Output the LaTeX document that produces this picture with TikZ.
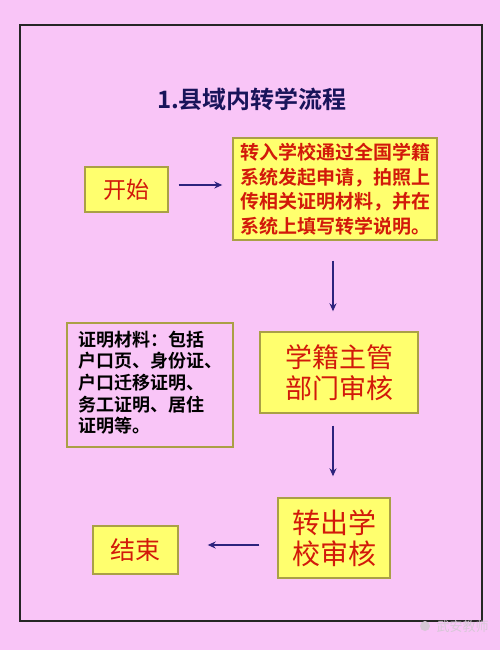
\documentclass[tikz,border=0pt]{standalone}
\usepackage{fontspec}
\setmainfont{Noto Sans CJK SC}
\newfontfamily\cjk{Noto Sans CJK SC}
\newfontfamily\cjkbold{Noto Sans CJK SC Bold}
\usetikzlibrary{arrows.meta}
\definecolor{bgpink}{RGB}{249,197,247}
\definecolor{boxyellow}{RGB}{255,255,110}
\definecolor{boxedge}{RGB}{170,160,70}
\definecolor{txtred}{RGB}{210,25,10}
\definecolor{navy}{RGB}{45,35,125}
\definecolor{titlenavy}{RGB}{25,20,90}
\definecolor{wmgray}{RGB}{215,200,215}
\tikzset{
  ybox/.style={draw=boxedge, line width=1.4pt, fill=boxyellow, text=txtred, align=center, inner sep=0pt},
  pbox/.style={draw=boxedge, line width=1.4pt, fill=bgpink, text=black, align=left, inner sep=0pt},
  flow/.style={draw=navy, line width=1.3pt, -{Stealth[length=8pt,width=7pt]}},
}
\begin{document}
\begin{tikzpicture}[x=1pt,y=-1pt]
\fill[bgpink] (0,0) rectangle (500,650);
\useasboundingbox (0,0) rectangle (500,650);
\draw[line width=1.3pt, black!85] (20,25) rectangle (482,621);
\node[text=titlenavy, font=\cjkbold\fontsize{24}{28}\selectfont] (title) at (252,99) {1.县域内转学流程};
\node[ybox, minimum width=83pt, minimum height=45pt, font=\cjk\fontsize{23}{27}\selectfont] (start) at (126.5,189.5) {开始};
\node[ybox, minimum width=204pt, minimum height=102pt, font=\cjkbold\fontsize{19}{24.5}\selectfont] (apply) at (335,189) {转入学校通过全国学籍\\系统发起申请，拍照上\\传相关证明材料，并在\\系统上填写转学说明。};
\node[ybox, minimum width=158pt, minimum height=81pt, font=\cjk\fontsize{27}{31}\selectfont] (dept) at (339,372.5) {学籍主管\\部门审核};
\node[pbox, minimum width=166pt, minimum height=124pt, font=\cjkbold\fontsize{18}{20.8}\selectfont] (mat) at (150,385) {\begin{tabular}{@{}l@{}}证明材料：包括\\户口页、身份证、\\户口迁移证明、\\务工证明、居住\\证明等。\end{tabular}};
\node[ybox, minimum width=112pt, minimum height=80pt, font=\cjk\fontsize{28}{31}\selectfont] (out) at (334,538) {转出学\\校审核};
\node[ybox, minimum width=85pt, minimum height=48pt, font=\cjk\fontsize{25}{29}\selectfont] (end) at (135.5,550) {结束};
\draw[flow, shorten <=10pt, shorten >=10pt] (start.east |- 0,185) -- (apply.west |- 0,185);
\draw[flow, shorten <=20pt, shorten >=20pt] (apply.south -| 333,0) -- (dept.north -| 333,0);
\draw[flow, shorten <=12pt, shorten >=21pt] (dept.south -| 333,0) -- (out.north -| 333,0);
\draw[flow, shorten <=18pt, shorten >=29pt] (out.west |- 0,545) -- (end.east |- 0,545);
\node[circle, fill=wmgray, inner sep=0pt, minimum size=10pt] (wmicon) at (425,626) {};
\node[text=wmgray, font=\cjk\fontsize{13}{15}\selectfont, anchor=west] (wm) at (433,627) {武安教师};
\end{tikzpicture}
\end{document}
